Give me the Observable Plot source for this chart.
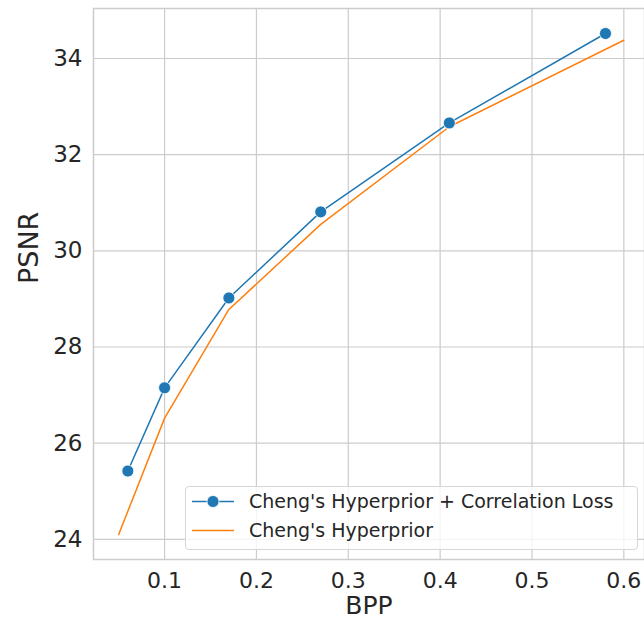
<!DOCTYPE html>
<html>
<head>
<meta charset="utf-8">
<script src="https://cdn.jsdelivr.net/npm/d3@7"></script>
<script src="https://cdn.jsdelivr.net/npm/@observablehq/plot@0.6"></script>
<style>
  html, body { margin: 0; padding: 0; background: #fff; overflow: hidden; }
  #wrap { position: relative; width: 644px; height: 625px; font-family: "DejaVu Sans", sans-serif; }
  #legend { position: absolute; left: 185px; top: 486px; width: 451px; height: 62px;
    border: 1px solid #d6d6d6; border-radius: 4px; background: rgba(255,255,255,0.8); }
</style>
</head>
<body>
<div id="wrap"></div>
<script>
const bpp = [0.06, 0.10, 0.17, 0.27, 0.41, 0.58];
const psnrCorr = [25.42, 27.15, 29.02, 30.81, 32.66, 34.52];
const bppBase = [0.05, 0.10, 0.17, 0.27, 0.41, 0.60];
const psnrBase = [24.10, 26.52, 28.78, 30.55, 32.58, 34.38];
const seriesNames = ["Cheng's Hyperprior + Correlation Loss", "Cheng's Hyperprior"];
const xTicks = [0.1, 0.2, 0.3, 0.4, 0.5, 0.6];
const yTicks = [24, 26, 28, 30, 32, 34];
const colors = ["#1f77b4", "#ff7f0e"];

const corr = bpp.map((x, i) => ({x, y: psnrCorr[i]}));
const base = bppBase.map((x, i) => ({x, y: psnrBase[i]}));

const chart = Plot.plot({
  width: 644,
  height: 625,
  marginLeft: 93,
  marginRight: 0,
  marginTop: 8,
  marginBottom: 66,
  style: {fontFamily: "DejaVu Sans, sans-serif", color: "#262626", background: "#fff"},
  x: {domain: [0.0226, 0.6225]},
  y: {domain: [23.58, 35.04]},
  marks: [
    Plot.gridX(xTicks, {stroke: "#cccccc", strokeOpacity: 1, strokeWidth: 1.2}),
    Plot.gridY(yTicks, {stroke: "#cccccc", strokeOpacity: 1, strokeWidth: 1.2}),
    Plot.frame({stroke: "#cccccc", strokeWidth: 1.5}),
    Plot.axisX(xTicks, {tickSize: 0, tickPadding: 13, fontSize: 22, tickFormat: d => d.toFixed(1), label: null, fill: "#262626"}),
    Plot.axisY(yTicks, {tickSize: 0, tickPadding: 11, fontSize: 23, label: null, fill: "#262626"}),
    Plot.text(["BPP"], {frameAnchor: "bottom", dy: 54, fontSize: 25, fill: "#262626"}),
    Plot.text(["PSNR"], {frameAnchor: "left", dx: -64, rotate: -90, fontSize: 27, fill: "#262626"}),
    Plot.line(base, {x: "x", y: "y", stroke: colors[1], strokeWidth: 1.5}),
    Plot.line(corr, {x: "x", y: "y", stroke: colors[0], strokeWidth: 1.5}),
    Plot.dot(corr, {x: "x", y: "y", r: 6, fill: colors[0], stroke: "#fff", strokeWidth: 0.8})
  ]
});
const wrap = document.getElementById("wrap");
wrap.appendChild(chart);

const legend = document.createElement("div");
legend.id = "legend";
const rowsY = [14.5, 43.5];
let svg = `<svg width="451" height="62" style="position:absolute;left:0;top:0;font-family:'DejaVu Sans',sans-serif">`;
seriesNames.forEach((name, i) => {
  const y = rowsY[i];
  svg += `<line x1="6" x2="48" y1="${y}" y2="${y}" stroke="${colors[i]}" stroke-width="1.5"/>`;
  if (i === 0) svg += `<circle cx="27" cy="${y}" r="6" fill="${colors[0]}" stroke="#fff" stroke-width="0.8"/>`;
  svg += `<text x="63" y="${y}" dy="0.36em" font-size="19" fill="#262626">${name}</text>`;
});
svg += `</svg>`;
legend.innerHTML = svg;
wrap.appendChild(legend);
</script>
</body>
</html>
